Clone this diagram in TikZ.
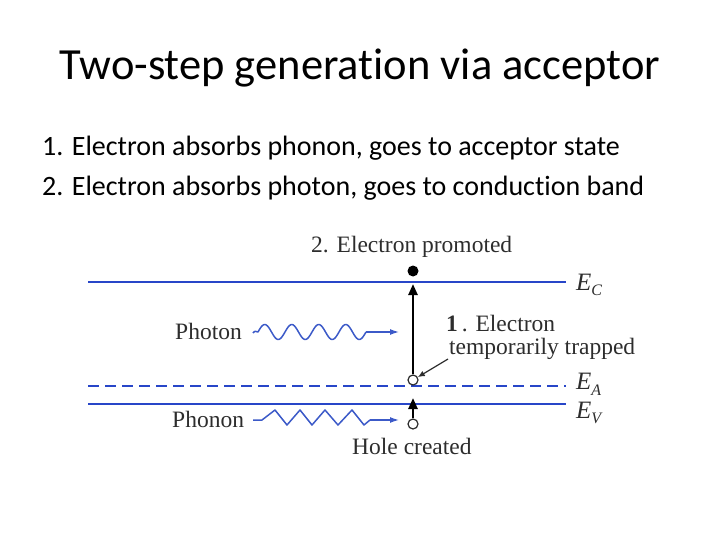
\documentclass[tikz,border=0pt]{standalone}
\usepackage{fontspec}
\setmainfont[Ligatures=NoCommon]{Carlito}
\newfontfamily\serifdiag{Liberation Serif}
\usetikzlibrary{arrows.meta}
\definecolor{bandblue}{RGB}{40,70,200}
\definecolor{wavblue}{RGB}{60,90,200}
\definecolor{lblgray}{RGB}{45,45,45}
\begin{document}
\begin{tikzpicture}[x=1pt,y=-1pt,
  band/.style={bandblue,line width=2.2pt},
  lbl/.style={font=\serifdiag\fontsize{23.5}{26}\selectfont,text=lblgray,inner sep=0pt},
  elab/.style={font=\serifdiag\itshape\fontsize{25}{27}\selectfont,text=lblgray,inner sep=0pt,anchor=west},
  hole/.style={circle,draw=lblgray,fill=white,line width=1.2pt,minimum size=10pt,inner sep=0pt},
  wave/.style={wavblue,line width=1.3pt,-{Latex[length=9pt,width=6pt]}}]
\useasboundingbox (0,0) rectangle (720,540);
% title and text
\node[font=\fontsize{44.5}{50}\selectfont] (title) at (360,68) {Two-step generation via acceptor};
\node[font=\fontsize{28}{32}\selectfont,anchor=west,inner sep=0pt] (l1) at (42,148) {1. Electron absorbs phonon, goes to acceptor state};
\node[font=\fontsize{28}{32}\selectfont,anchor=west,inner sep=0pt] (l2) at (42,188) {2. Electron absorbs photon, goes to conduction band};
% bands
\coordinate (ecL) at (88,282); \coordinate (ecR) at (566,282);
\coordinate (eaL) at (88,386); \coordinate (eaR) at (566,386);
\coordinate (evL) at (88,404); \coordinate (evR) at (566,404);
\draw[band] (ecL) -- (ecR);
\draw[band,dash pattern=on 11pt off 6pt] (eaL) -- (eaR);
\draw[band] (evL) -- (evR);
\node[elab] (EC) at (576,285) {E\raisebox{-0.5ex}{\fontsize{16}{17}\selectfont C}};
\node[elab] (EA) at (576,384) {E\raisebox{-0.5ex}{\fontsize{16}{17}\selectfont A}};
\node[elab] (EV) at (576,413) {E\raisebox{-0.5ex}{\fontsize{16}{17}\selectfont V}};
% electron and holes
\node[circle,fill=black,minimum size=11pt,inner sep=0pt] (el) at (413,271) {};
\node[hole] (ha) at (413,380) {};
\node[hole] (hv) at (413,424) {};
\coordinate (ecx) at (413,284);
\coordinate (evx) at (413,398);
\draw[black,line width=2.4pt,-{Triangle[length=11pt,width=9pt]}] (ha) -- (ecx);
\draw[black,line width=2.4pt,-{Triangle[length=11pt,width=9pt]}] (hv) -- (evx);
% labels
\node[lbl,anchor=west] (prom) at (311,247) {2. Electron promoted};
\node[lbl,anchor=west] (trap1) at (446,324) {\textbf{1}\,. Electron};
\node[lbl,anchor=west] (trap2) at (449,349) {temporarily trapped};
\node[lbl,anchor=west] (hole) at (352,446) {Hole created};
\node[lbl,anchor=west] (photon) at (175,331) {Photon};
\node[lbl,anchor=west] (phonon) at (172,419) {Phonon};
\coordinate (tA) at (448,359);
\draw[lblgray,line width=1.2pt,-{Latex[length=7pt,width=6pt]}] (tA) -- (ha);
% photon wave
\coordinate (pw0) at (253,333);
\coordinate (pw1) at (366,332);
\coordinate (pw2) at (399,332);
\draw[wavblue,line width=1.5pt,line join=round] (pw0) .. controls (255,330) and (256,332) .. (258,332)
  -- plot[smooth,samples=90,domain=0:108,variable=\t] ({258+\t},{332-7.5*sin(13.3333*\t)});
\draw[wave] (pw1) -- (pw2);
% phonon zigzag
\coordinate (pz0) at (253,420);
\coordinate (pz1) at (262,420);
\coordinate (pz2) at (370,420);
\coordinate (pz3) at (399,420);
\draw[wavblue,line width=1.5pt,line join=round] (pz0) -- (pz1) -- (275,410) -- (287,425) -- (300,410) -- (312,425) -- (325,410) -- (338,425) -- (352,410) -- (364,425) -- (pz2);
\draw[wave] (pz2) -- (pz3);
\end{tikzpicture}
\end{document}
